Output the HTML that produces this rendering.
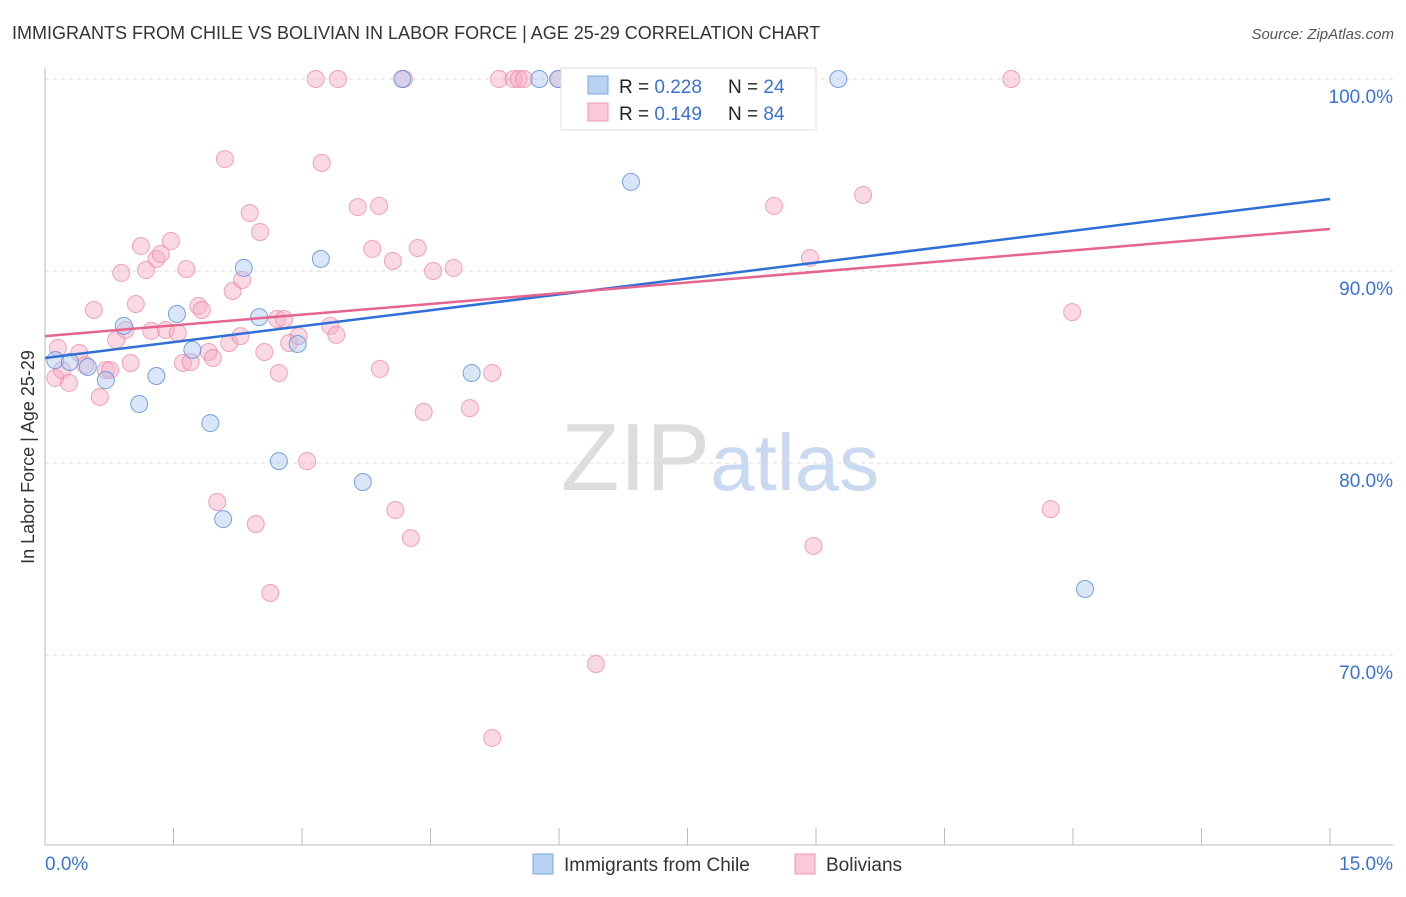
<!DOCTYPE html>
<html><head><meta charset="utf-8"><style>
body{margin:0;background:#fff;font-family:"Liberation Sans",sans-serif;}
svg text{font-family:"Liberation Sans",sans-serif;}
</style></head><body>
<svg id="chart" width="1406" height="892" xmlns="http://www.w3.org/2000/svg">
<text x="12" y="39" font-size="18" fill="#333">IMMIGRANTS FROM CHILE VS BOLIVIAN IN LABOR FORCE | AGE 25-29 CORRELATION CHART</text>
<text x="1394" y="39" font-size="15" fill="#555" font-style="italic" text-anchor="end">Source: ZipAtlas.com</text>
<text x="720" y="490" font-size="96" fill="#ddd" text-anchor="middle" font-family="Liberation Serif">ZIP<tspan fill="#c9d9f0" font-family="Liberation Sans" font-size="80">atlas</tspan></text>
<g id="grid"></g>
<g id="axes"></g>
<g id="marks"></g>
<text transform="translate(34,457) rotate(-90)" font-size="18" fill="#333" text-anchor="middle">In Labor Force | Age 25-29</text>
<g>
<rect x="561" y="68" width="255" height="62" fill="#fff" stroke="#ddd"/>
<rect x="588" y="76" width="20" height="18" fill="#b9d1f3" stroke="#7aa6e0"/>
<rect x="588" y="103" width="20" height="18" fill="#f9c9d7" stroke="#ec98b3"/>
<text x="619" y="93" font-size="19" fill="#222">R = <tspan fill="#3a72d0">0.228</tspan></text>
<text x="728" y="93" font-size="19" fill="#222">N = <tspan fill="#3a72d0">24</tspan></text>
<text x="619" y="120" font-size="19" fill="#222">R = <tspan fill="#3a72d0"> 0.149</tspan></text>
<text x="728" y="120" font-size="19" fill="#222">N = <tspan fill="#3a72d0">84</tspan></text>
</g>
<g>
<rect x="533" y="854" width="20" height="20" fill="#b9d1f3" stroke="#7aa6e0"/>
<text x="564" y="871" font-size="19" fill="#333">Immigrants from Chile</text>
<rect x="795" y="854" width="20" height="20" fill="#f9c9d7" stroke="#ec98b3"/>
<text x="826" y="871" font-size="19" fill="#333">Bolivians</text>
</g>
</svg>
<script>
const yTicks=[100,90,80,70];
const yTickLabels=["100.0%","90.0%","80.0%","70.0%"];
const xTickLabels=["0.0%","15.0%"];
const chileX=[0.12,0.29,0.50,0.71,0.92,1.10,1.30,1.54,1.72,1.93,2.08,2.32,2.50,2.73,2.95,3.22,3.71,4.17,4.98,5.77,5.99,6.84,9.26,12.14];
const chileY=[85.36,85.26,85.0,84.32,87.14,83.07,84.53,87.76,85.89,82.08,77.08,90.16,87.6,80.1,86.2,90.63,79.01,100,84.69,100,100,94.64,100,73.44];
const bolX=[0.12,0.15,0.20,0.28,0.40,0.47,0.57,0.64,0.71,0.76,0.83,0.89,0.94,1.00,1.06,1.12,1.18,1.24,1.30,1.35,1.41,1.47,1.55,1.61,1.65,1.70,1.79,1.83,1.91,1.96,2.01,2.10,2.15,2.19,2.28,2.30,2.39,2.46,2.51,2.56,2.63,2.71,2.73,2.79,2.85,2.96,3.06,3.16,3.23,3.33,3.40,3.42,3.65,3.82,3.90,3.91,4.06,4.09,4.19,4.27,4.35,4.42,4.53,4.77,4.96,5.22,5.22,5.30,5.47,5.53,5.59,6.00,6.36,6.43,8.08,8.51,8.93,8.97,9.55,11.28,11.74,11.99];
const bolY=[84.43,85.99,84.84,84.17,85.73,85.1,87.97,83.44,84.84,84.84,86.41,89.9,86.93,85.21,88.28,91.3,90.05,86.88,90.63,90.89,86.93,91.56,86.77,85.21,90.1,85.26,88.18,87.97,85.78,85.47,77.97,95.83,86.25,88.96,86.61,89.53,93.02,76.82,92.03,85.78,73.23,87.5,84.69,87.5,86.25,86.61,80.1,100,95.63,87.14,86.67,100,93.33,91.15,93.39,84.9,90.52,77.55,100,76.09,91.2,82.66,90.0,90.16,82.86,84.69,65.68,100,100,100,100,100,100,69.53,100,93.39,90.68,75.68,93.96,100,77.6,87.86];
const chileTrend=[85.47,93.75];
const bolTrend=[86.61,92.19];
const xDomain=[0,15];
const X=v=>45+(v-xDomain[0])/(xDomain[1]-xDomain[0])*1285;
const Y=v=>79+(100-v)*19.2;
const NS="http://www.w3.org/2000/svg";
function mk(parent,tag,attrs){const e=document.createElementNS(NS,tag);for(const k in attrs)e.setAttribute(k,attrs[k]);document.getElementById(parent).appendChild(e);return e;}
yTicks.forEach((t,i)=>{
 const l=mk('grid','line',{x1:45,x2:1393,y1:Y(t),y2:Y(t),stroke:'#ddd','stroke-dasharray':'4,4'});
 
 
 const tx=mk('grid','text',{x:1393,y:Y(t)+24,'font-size':19,fill:'#3a72d0','text-anchor':'end'});
 tx.textContent=yTickLabels[i];
 
 
});
const ya=mk('axes','line',{x1:45,x2:45,y1:68,y2:845,stroke:'#bbb'});


const xa=mk('axes','line',{x1:45,x2:1393,y1:845,y2:845,stroke:'#bbb'});


for(let v=1.5;v<=15.01;v+=1.5){
 const t=mk('axes','line',{x1:X(v),x2:X(v),y1:828,y2:845,stroke:'#bbb'});
 
 
}
[[X(0),'start'],[X(15)+63,'end']].forEach((p,i)=>{
 const tx=mk('axes','text',{x:p[0],y:870,'font-size':19,fill:'#3a72d0','text-anchor':p[1]});
 tx.textContent=xTickLabels[i];
 
 
});
bolX.forEach((x,i)=>{
 const c=mk('marks','circle',{cx:X(x),cy:Y(bolY[i]),r:8.5,fill:'rgba(246,170,195,0.45)',stroke:'rgba(232,130,160,0.7)','stroke-width':1});
 
 
});
chileX.forEach((x,i)=>{
 const c=mk('marks','circle',{cx:X(x),cy:Y(chileY[i]),r:8.5,fill:'rgba(170,200,240,0.45)',stroke:'rgba(90,140,215,0.8)','stroke-width':1});
 
 
});
const lb=mk('marks','line',{x1:X(0),x2:X(15),y1:Y(chileTrend[0]),y2:Y(chileTrend[1]),stroke:'#2f6fd6','stroke-width':2.5});


const lp=mk('marks','line',{x1:X(0),x2:X(15),y1:Y(bolTrend[0]),y2:Y(bolTrend[1]),stroke:'#e4658f','stroke-width':2.5});


</script>
</body></html>
